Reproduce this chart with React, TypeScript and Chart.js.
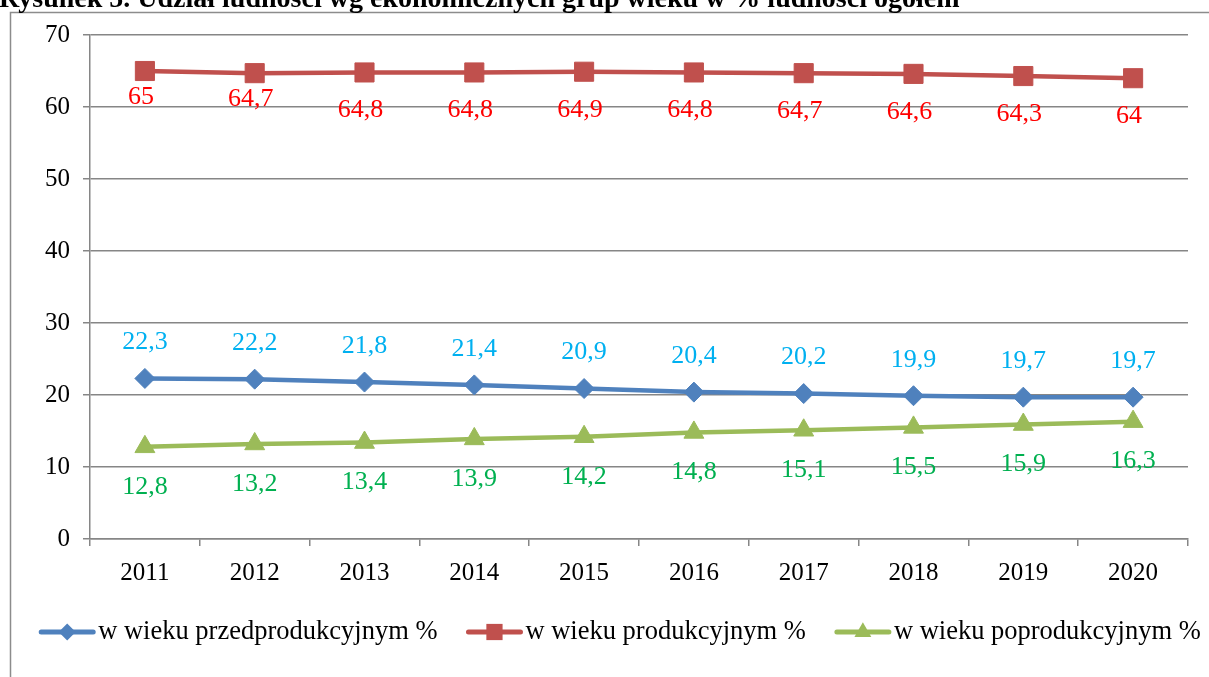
import React, { useEffect, useRef } from 'react';
import { Chart, registerables } from 'chart.js';

Chart.register(...registerables);

const titleText = 'Rysunek 5. Udział ludności wg ekonomicznych grup wieku w % ludności ogółem';
const categories = ['2011', '2012', '2013', '2014', '2015', '2016', '2017', '2018', '2019', '2020'];
const przedprodukcyjny = [22.3, 22.2, 21.8, 21.4, 20.9, 20.4, 20.2, 19.9, 19.7, 19.7];
const produkcyjny = [65, 64.7, 64.8, 64.8, 64.9, 64.8, 64.7, 64.6, 64.3, 64];
const poprodukcyjny = [12.8, 13.2, 13.4, 13.9, 14.2, 14.8, 15.1, 15.5, 15.9, 16.3];
const seriesNames = ['w wieku przedprodukcyjnym %', 'w wieku produkcyjnym %', 'w wieku poprodukcyjnym %'];
const yMin = 0;
const yMax = 70;
const yStep = 10;

const FONT = "'Liberation Serif', 'Times New Roman', serif";
const lineColors = ['#4F81BD', '#C0504D', '#9BBB59'];
const labelColors = ['#00B0F0', '#FF0000', '#00B050'];
const pointStyles = ['rectRot', 'rect', 'triangle'];
const pointRadii = [10, 13.5, 11.5];
const GRID = '#868686';

function fmt(v: number) {
  return String(v).replace('.', ',');
}

function drawMarker(ctx: CanvasRenderingContext2D, style: string, x: number, y: number, r: number, color: string) {
  ctx.save();
  ctx.fillStyle = color;
  ctx.beginPath();
  if (style === 'rectRot') {
    ctx.moveTo(x, y - r);
    ctx.lineTo(x + r, y);
    ctx.lineTo(x, y + r);
    ctx.lineTo(x - r, y);
  } else if (style === 'rect') {
    const s = Math.SQRT1_2 * r;
    ctx.rect(x - s, y - s, 2 * s, 2 * s);
  } else {
    ctx.moveTo(x, y - r);
    ctx.lineTo(x + r * Math.sin((2 * Math.PI) / 3), y + r * 0.5);
    ctx.lineTo(x - r * Math.sin((2 * Math.PI) / 3), y + r * 0.5);
  }
  ctx.closePath();
  ctx.fill();
  ctx.restore();
}

const decorPlugin = {
  id: 'decor',
  beforeDraw(chart: any) {
    const ctx = chart.ctx as CanvasRenderingContext2D;
    ctx.save();
    ctx.fillStyle = '#ffffff';
    ctx.fillRect(0, 0, chart.width, chart.height);
    ctx.strokeStyle = '#8c8c8c';
    ctx.lineWidth = 1.5;
    ctx.strokeRect(10.5, 12.5, chart.width + 20, chart.height + 20);
    ctx.fillStyle = '#000000';
    ctx.font = `bold 28px ${FONT}`;
    ctx.textAlign = 'left';
    ctx.textBaseline = 'alphabetic';
    ctx.fillText(titleText, -1, 7);
    ctx.restore();
  },
  afterDatasetsDraw(chart: any) {
    const ctx = chart.ctx as CanvasRenderingContext2D;
    const offsets = [
      () => -36,
      (i: number) => (i < 2 ? 26 : 38),
      () => 40,
    ];
    const xShift = [0, -4, 0];
    ctx.save();
    ctx.font = `26px ${FONT}`;
    ctx.textAlign = 'center';
    ctx.textBaseline = 'middle';
    chart.data.datasets.forEach((ds: any, di: number) => {
      const meta = chart.getDatasetMeta(di);
      ctx.fillStyle = labelColors[di];
      meta.data.forEach((pt: any, i: number) => {
        ctx.fillText(fmt(ds.data[i]), pt.x + xShift[di], pt.y + offsets[di](i));
      });
    });
    ctx.restore();
  },
  afterDraw(chart: any) {
    const ctx = chart.ctx as CanvasRenderingContext2D;
    ctx.save();
    ctx.font = `26.5px ${FONT}`;
    ctx.textBaseline = 'middle';
    ctx.textAlign = 'left';
    const symW = 56;
    const gapText = 3;
    const gapItem = 29;
    const widths = seriesNames.map((n) => symW + gapText + ctx.measureText(n).width);
    const total = widths.reduce((a, b) => a + b, 0) + gapItem * (widths.length - 1);
    let x = 620 - total / 2;
    const y = 632;
    seriesNames.forEach((name, i) => {
      ctx.strokeStyle = lineColors[i];
      ctx.lineWidth = 5;
      ctx.lineCap = 'round';
      ctx.beginPath();
      ctx.moveTo(x + 2, y);
      ctx.lineTo(x + symW - 2, y);
      ctx.stroke();
      drawMarker(ctx, pointStyles[i], x + symW / 2, y, pointRadii[i] * 0.85, lineColors[i]);
      ctx.fillStyle = '#000000';
      ctx.fillText(name, x + symW + gapText, y);
      x += widths[i] + gapItem;
    });
    ctx.restore();
  },
};

export default function App() {
  const canvasRef = useRef<HTMLCanvasElement | null>(null);

  useEffect(() => {
    const canvas = canvasRef.current;
    if (!canvas) return;
    const seriesData = [przedprodukcyjny, produkcyjny, poprodukcyjny];
    const chart = new Chart(canvas, {
      type: 'line',
      data: {
        labels: categories,
        datasets: seriesData.map((d, i) => ({
          label: seriesNames[i],
          data: d,
          borderColor: lineColors[i],
          backgroundColor: lineColors[i],
          borderWidth: 4.5,
          pointStyle: pointStyles[i] as any,
          pointRadius: pointRadii[i],
          pointBorderWidth: 1,
          pointBackgroundColor: lineColors[i],
          pointBorderColor: lineColors[i],
          tension: 0,
          fill: false,
        })),
      },
      options: {
        animation: false,
        responsive: false,
        layout: { padding: { top: 35, left: 0, right: 21, bottom: 68 } },
        plugins: {
          legend: { display: false },
          title: { display: false },
          tooltip: { enabled: false },
        },
        scales: {
          x: {
            offset: true,
            afterFit: (s: any) => {
              s.height = 70;
            },
            grid: {
              offset: true,
              drawOnChartArea: false,
              drawTicks: true,
              tickLength: 7,
              color: GRID,
              lineWidth: 1.5,
            },
            border: { display: true, color: GRID, width: 1.5 },
            ticks: {
              color: '#000000',
              font: { family: FONT, size: 25 },
              padding: 12,
              maxRotation: 0,
              autoSkip: false,
            },
          },
          y: {
            min: yMin,
            max: yMax,
            afterFit: (s: any) => {
              s.width = 90;
            },
            grid: {
              color: GRID,
              lineWidth: 1.5,
              tickLength: 7,
              drawTicks: true,
            },
            border: { display: true, color: GRID, width: 1.5 },
            ticks: {
              stepSize: yStep,
              color: '#000000',
              font: { family: FONT, size: 25 },
              padding: 13,
            },
          },
        },
      },
      plugins: [decorPlugin],
    });
    return () => chart.destroy();
  }, []);

  return (
    <div style={{ position: 'fixed', left: 0, top: 0, width: 1209, height: 677, overflow: 'hidden', background: '#fff' }}>
      <canvas ref={canvasRef} width={1209} height={677} style={{ display: 'block' }} />
    </div>
  );
}
